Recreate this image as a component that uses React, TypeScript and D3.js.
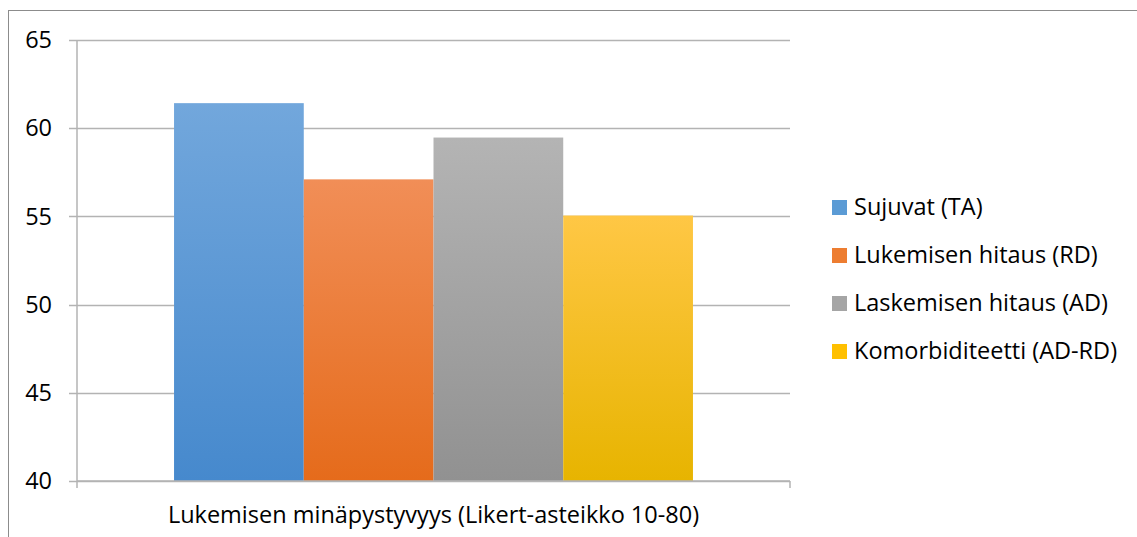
import React from "react";
import * as d3 from "d3";

const categoryLabel = "Lukemisen minäpystyvyys (Likert-asteikko 10-80)";
const seriesNames = [
  "Sujuvat (TA)",
  "Lukemisen hitaus (RD)",
  "Laskemisen hitaus (AD)",
  "Komorbiditeetti (AD-RD)",
];
const seriesValues = [61.42, 57.1, 59.47, 55.05];
const yTicks = [40, 45, 50, 55, 60, 65];

// gradient stops per series: [top, bottom]
const seriesGradients: [string, string][] = [
  ["#72a7dc", "#4689cd"],
  ["#f18e57", "#e56b1b"],
  ["#b4b4b4", "#919191"],
  ["#ffc745", "#e7b400"],
];
const legendSwatch = ["#5b9bd5", "#ed7d31", "#a5a5a5", "#ffc000"];

const W = 1137;
const H = 537;
const plot = { left: 77, right: 790, top: 40, bottom: 481 };
const FONT = "'Open Sans', Lato, sans-serif";
const FS = 23.5;

export default function App() {
  const y = d3.scaleLinear().domain([40, 65]).range([plot.bottom, plot.top]);
  const outer = d3
    .scaleBand()
    .domain([categoryLabel])
    .range([plot.left, plot.right])
    .paddingInner(0)
    .paddingOuter(0.187);
  const inner = d3
    .scaleBand()
    .domain(seriesNames)
    .range([0, outer.bandwidth()])
    .padding(0);
  const x0 = outer(categoryLabel) ?? 0;

  return (
    <svg
      width={W}
      height={H}
      style={{ position: "absolute", left: 0, top: 0, background: "#fff" }}
    >
      <defs>
        {seriesGradients.map(([a, b], i) => (
          <linearGradient key={i} id={`g${i}`} x1="0" y1="0" x2="0" y2="1">
            <stop offset="0" stopColor={a} />
            <stop offset="1" stopColor={b} />
          </linearGradient>
        ))}
      </defs>
      {/* outer frame */}
      <rect x={8.5} y={10.5} width={W} height={H} fill="none" stroke="#8c8c8c" strokeWidth={1} />

      {/* gridlines and y labels */}
      {yTicks.map((t) => (
        <g key={t}>
          <line
            x1={69}
            x2={plot.right}
            y1={Math.round(y(t)) + 0.5}
            y2={Math.round(y(t)) + 0.5}
            stroke="#b3b3b3"
            strokeWidth={1.5}
          />
          <text
            x={52}
            y={y(t)}
            dy="0.35em"
            textAnchor="end"
            fontFamily={FONT}
            fontSize={FS}
            fill="#000"
          >
            {t}
          </text>
        </g>
      ))}

      {/* bars */}
      {seriesNames.map((s, i) => {
        const v = seriesValues[i];
        return (
          <rect
            key={s}
            x={x0 + (inner(s) ?? 0)}
            y={y(v)}
            width={inner.bandwidth()}
            height={y(40) - y(v)}
            fill={`url(#g${i})`}
          />
        );
      })}

      {/* axes */}
      <line x1={plot.left} x2={plot.left} y1={plot.top} y2={488} stroke="#b3b3b3" strokeWidth={1.5} />
      <line x1={plot.left} x2={plot.right} y1={481} y2={481} stroke="#b3b3b3" strokeWidth={1.5} />
      <line x1={plot.right} x2={plot.right} y1={481} y2={488} stroke="#b3b3b3" strokeWidth={1.5} />

      <text
        x={(plot.left + plot.right) / 2}
        y={523}
        textAnchor="middle"
        fontFamily={FONT}
        fontSize={FS}
        fill="#000"
      >
        {categoryLabel}
      </text>

      {/* legend */}
      {seriesNames.map((s, i) => {
        const cy = 207 + i * 48;
        return (
          <g key={s}>
            <rect x={832} y={cy - 7} width={15} height={15} fill={legendSwatch[i]} />
            <text x={854} y={cy} dy="0.35em" fontFamily={FONT} fontSize={FS} fill="#000">
              {s}
            </text>
          </g>
        );
      })}
    </svg>
  );
}
